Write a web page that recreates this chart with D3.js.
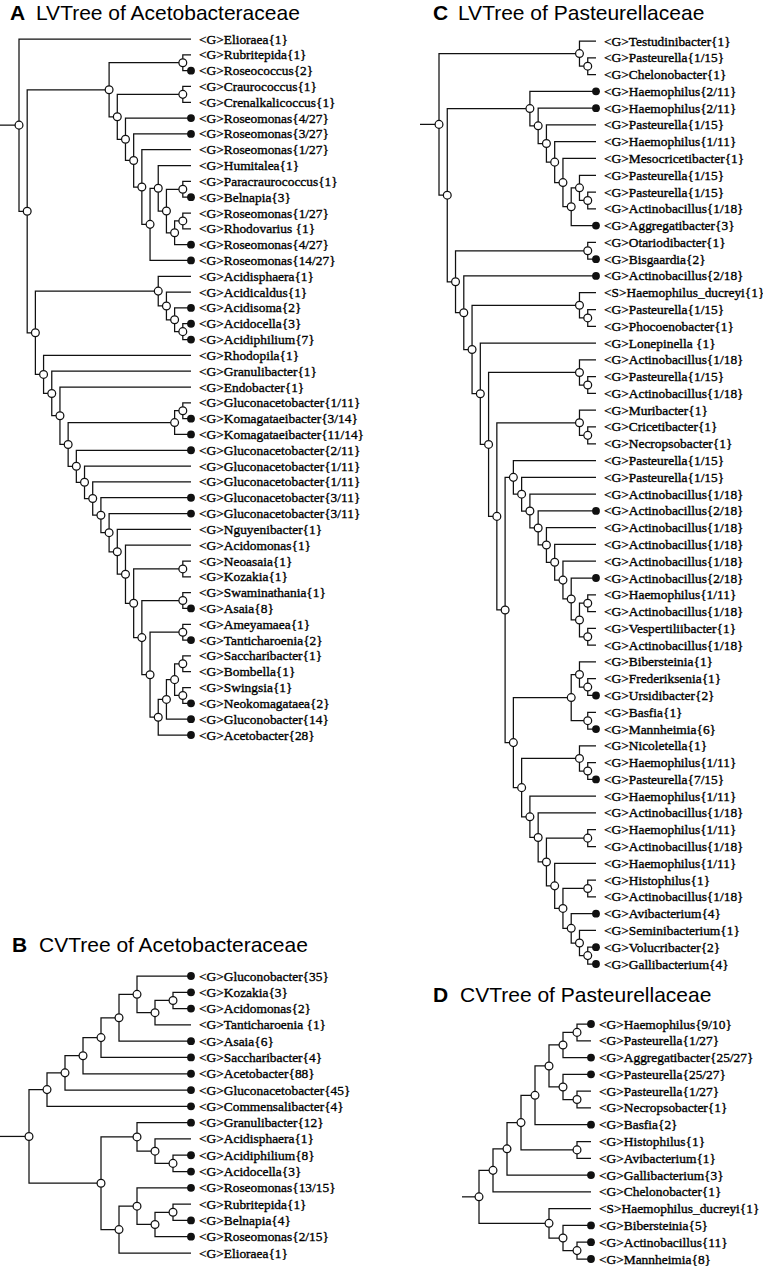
<!DOCTYPE html>
<html><head><meta charset="utf-8">
<script src="https://cdn.jsdelivr.net/npm/d3@7"></script>
<style>
body{margin:0;background:#fff;}
svg{display:block;}
.tl{font-family:"Liberation Sans",Arial,sans-serif;font-weight:bold;font-size:21px;fill:#000;}
.tt{font-family:"Liberation Sans",Arial,sans-serif;font-size:21px;fill:#000;}
.leaf{font-family:"Liberation Serif","Times New Roman",serif;font-size:13.4px;fill:#000;stroke:#000;stroke-width:0.35px;}
</style></head><body>
<svg id="chart" width="763" height="1266"></svg>
<script>
// ---------- DATA ----------
const leavesA = ["<G>Elioraea{1}","<G>Rubritepida{1}","<G>Roseococcus{2}","<G>Craurococcus{1}","<G>Crenalkalicoccus{1}",
 "<G>Roseomonas{4/27}","<G>Roseomonas{3/27}","<G>Roseomonas{1/27}","<G>Humitalea{1}","<G>Paracraurococcus{1}",
 "<G>Belnapia{3}","<G>Roseomonas{1/27}","<G>Rhodovarius {1}","<G>Roseomonas{4/27}","<G>Roseomonas{14/27}",
 "<G>Acidisphaera{1}","<G>Acidicaldus{1}","<G>Acidisoma{2}","<G>Acidocella{3}","<G>Acidiphilium{7}",
 "<G>Rhodopila{1}","<G>Granulibacter{1}","<G>Endobacter{1}","<G>Gluconacetobacter{1/11}","<G>Komagataeibacter{3/14}",
 "<G>Komagataeibacter{11/14}","<G>Gluconacetobacter{2/11}","<G>Gluconacetobacter{1/11}","<G>Gluconacetobacter{1/11}","<G>Gluconacetobacter{3/11}",
 "<G>Gluconacetobacter{3/11}","<G>Nguyenibacter{1}","<G>Acidomonas{1}","<G>Neoasaia{1}","<G>Kozakia{1}",
 "<G>Swaminathania{1}","<G>Asaia{8}","<G>Ameyamaea{1}","<G>Tanticharoenia{2}","<G>Saccharibacter{1}",
 "<G>Bombella{1}","<G>Swingsia{1}","<G>Neokomagataea{2}","<G>Gluconobacter{14}","<G>Acetobacter{28}"];

const leavesB = ["<G>Gluconobacter{35}","<G>Kozakia{3}","<G>Acidomonas{2}","<G>Tanticharoenia {1}","<G>Asaia{6}",
 "<G>Saccharibacter{4}","<G>Acetobacter{88}","<G>Gluconacetobacter{45}","<G>Commensalibacter{4}","<G>Granulibacter{12}",
 "<G>Acidisphaera{1}","<G>Acidiphilium{8}","<G>Acidocella{3}","<G>Roseomonas{13/15}","<G>Rubritepida{1}",
 "<G>Belnapia{4}","<G>Roseomonas{2/15}","<G>Elioraea{1}"];

const leavesC = ["<G>Testudinibacter{1}","<G>Pasteurella{1/15}","<G>Chelonobacter{1}","<G>Haemophilus{2/11}","<G>Haemophilus{2/11}",
 "<G>Pasteurella{1/15}","<G>Haemophilus{1/11}","<G>Mesocricetibacter{1}","<G>Pasteurella{1/15}","<G>Pasteurella{1/15}",
 "<G>Actinobacillus{1/18}","<G>Aggregatibacter{3}","<G>Otariodibacter{1}","<G>Bisgaardia{2}","<G>Actinobacillus{2/18}",
 "<S>Haemophilus_ducreyi{1}","<G>Pasteurella{1/15}","<G>Phocoenobacter{1}","<G>Lonepinella {1}","<G>Actinobacillus{1/18}",
 "<G>Pasteurella{1/15}","<G>Actinobacillus{1/18}","<G>Muribacter{1}","<G>Cricetibacter{1}","<G>Necropsobacter{1}",
 "<G>Pasteurella{1/15}","<G>Pasteurella{1/15}","<G>Actinobacillus{1/18}","<G>Actinobacillus{2/18}","<G>Actinobacillus{1/18}",
 "<G>Actinobacillus{1/18}","<G>Actinobacillus{1/18}","<G>Actinobacillus{2/18}","<G>Haemophilus{1/11}","<G>Actinobacillus{1/18}",
 "<G>Vespertiliibacter{1}","<G>Actinobacillus{1/18}","<G>Bibersteinia{1}","<G>Frederiksenia{1}","<G>Ursidibacter{2}",
 "<G>Basfia{1}","<G>Mannheimia{6}","<G>Nicoletella{1}","<G>Haemophilus{1/11}","<G>Pasteurella{7/15}",
 "<G>Haemophilus{1/11}","<G>Actinobacillus{1/18}","<G>Haemophilus{1/11}","<G>Actinobacillus{1/18}","<G>Haemophilus{1/11}",
 "<G>Histophilus{1}","<G>Actinobacillus{1/18}","<G>Avibacterium{4}","<G>Seminibacterium{1}","<G>Volucribacter{2}",
 "<G>Gallibacterium{4}"];

const leavesD = ["<G>Haemophilus{9/10}","<G>Pasteurella{1/27}","<G>Aggregatibacter{25/27}","<G>Pasteurella{25/27}","<G>Pasteurella{1/27}",
 "<G>Necropsobacter{1}","<G>Basfia{2}","<G>Histophilus{1}","<G>Avibacterium{1}","<G>Gallibacterium{3}",
 "<G>Chelonobacter{1}","<S>Haemophilus_ducreyi{1}","<G>Bibersteinia{5}","<G>Actinobacillus{11}","<G>Mannheimia{8}"];

// Topologies (Newick, leaves referenced by index). lad() writes a ladder (a,(b,(c,...tail)))
const lad = (items, tail) => items.reduceRight((acc, it) => `(${it},${acc})`, tail);

const topoA = `(0,(((1,2),${lad(["(3,4)","5","6","7"], "((8,((9,10),((11,12),13))),14)")}),(${lad(["15","16","17"],"(18,19)")},${lad(["20","21","22","((23,24),25)","26","27","28","29","30","31","32","(33,34)","(35,36)","(37,38)"],"((((39,40),(41,42)),43),44)")})))`;

const topoB = `(((((((0,((1,2),3)),4),5),6),7),8),((9,(10,(11,12))),((13,((14,15),16)),17)))`;

const topoC = `((0,(1,2)),(${lad(["3","4","5","6","7"],"((8,(9,10)),11)")},${lad(["(12,13)","14","(15,(16,17))","18","(19,(20,21))","(22,(23,24))"],
  `(${lad(["25","26","27","28","29","30","31","32"],"((33,34),(35,36))")},(((37,(38,39)),(40,41)),((42,(43,44)),${lad(["45","46","(47,48)","49","(50,51)","52","53"],"(54,55)")})))`)}))`;

const topoD = `((((((((0,1),2),(3,(4,5))),6),(7,8)),9),10),(11,(12,(13,14))))`;

// ---------- PANELS (layout) ----------
const panels = [
  {letter:"A", title:"LVTree of Acetobacteraceae", labels:leavesA, topo:topoA, rootX:19,  leafX:191, y0:39,   y1:735,  stubX:0,   lx:10,  tx:36,  ty:19.5},
  {letter:"B", title:"CVTree of Acetobacteraceae", labels:leavesB, topo:topoB, rootX:29,  leafX:191, y0:976,  y1:1253, stubX:0,   lx:12,  tx:39,  ty:952},
  {letter:"C", title:"LVTree of Pasteurellaceae",  labels:leavesC, topo:topoC, rootX:439, leafX:596, y0:41,   y1:964,  stubX:420, lx:433, tx:458, ty:19.5},
  {letter:"D", title:"CVTree of Pasteurellaceae",  labels:leavesD, topo:topoD, rootX:479, leafX:591, y0:1024, y1:1259, stubX:462, lx:433, tx:460, ty:1002}
];

function parseNewick(s){
  let i = 0;
  function node(){
    if (s[i] === "("){
      i++;
      const children = [node()];
      while (s[i] === ","){ i++; children.push(node()); }
      if (s[i] !== ")") throw new Error("bad newick at " + i);
      i++;
      return {children};
    }
    const j = i;
    while (i < s.length && /[0-9]/.test(s[i])) i++;
    if (j === i) throw new Error("empty leaf at " + i);
    return {leaf: +s.slice(j, i)};
  }
  const r = node();
  if (i !== s.length) throw new Error("trailing newick");
  return r;
}

const svg = d3.select("#chart");
const INK = "#111";

panels.forEach(p => {
  const g = svg.append("g");
  g.append("text").attr("class","tl").attr("x",p.lx).attr("y",p.ty).text(p.letter);
  g.append("text").attr("class","tt").attr("x",p.tx).attr("y",p.ty).text(p.title);

  const root = d3.hierarchy(parseNewick(p.topo), d => d.children);
  const n = p.labels.length;
  d3.cluster().size([n, 1]).separation(() => 1)(root);
  const x = d3.scaleLinear().domain([0, 1]).range([p.rootX, p.leafX]);
  const y = d3.scaleLinear().domain([0.5, n - 0.5]).range([p.y0, p.y1]);

  const lines = g.append("g").attr("fill","none").attr("stroke",INK).attr("stroke-width",1.25);
  lines.append("line").attr("x1",p.stubX).attr("x2",x(root.y)).attr("y1",y(root.x)).attr("y2",y(root.x));
  lines.selectAll("path").data(root.links()).join("path")
    .attr("d", l => `M${x(l.source.y)},${y(l.source.x)}V${y(l.target.x)}H${x(l.target.y)}`);

  g.append("g").selectAll("circle").data(root.descendants().filter(d => d.children)).join("circle")
    .attr("cx", d => x(d.y)).attr("cy", d => y(d.x)).attr("r", 3.9)
    .attr("fill","#fff").attr("stroke",INK).attr("stroke-width",1.25);

  const leaves = root.leaves();
  const count = d => +((p.labels[d.data.leaf].match(/\{(\d+)/) || [0,1])[1]);
  g.append("g").selectAll("circle").data(leaves.filter(d => count(d) > 1)).join("circle")
    .attr("cx", d => x(d.y)).attr("cy", d => y(d.x)).attr("r", 3.9).attr("fill", INK);

  g.append("g").selectAll("text").data(leaves).join("text")
    .attr("class","leaf")
    .attr("x", d => x(d.y) + 8).attr("y", d => y(d.x) + 4.5)
    .text(d => p.labels[d.data.leaf]);
});
</script></body></html>
